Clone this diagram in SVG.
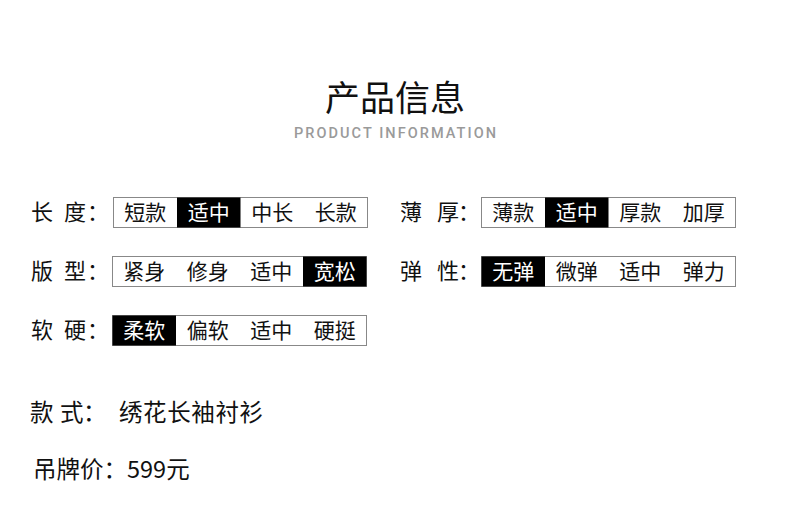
<svg xmlns="http://www.w3.org/2000/svg" width="790" height="508" viewBox="0 0 790 508">
<style>
text{font-family:"Noto Sans CJK SC","Noto Sans",sans-serif;fill:#111;}
.title{font-size:35px;text-anchor:middle;font-weight:400;}
.sub{font-family:"Roboto","Liberation Sans",sans-serif;font-size:14.5px;font-weight:500;fill:#9a9a9a;}
.lbl{font-size:22px;}
.cell{font-size:21px;text-anchor:middle;}
.on{fill:#fff;}
.box{fill:#fff;stroke:#888;stroke-width:1;}
.sel{fill:#000;}
.info{font-size:23.5px;}
</style>
<rect width="790" height="508" fill="#fff"/>
<g id="header">
<text class="title" x="395" y="111">产品信息</text>
<text class="sub" x="294" y="137.5" textLength="202" lengthAdjust="spacing">PRODUCT INFORMATION</text>
</g>
<g id="length">
<text class="lbl" x="31 64 87" y="220">长度：</text>
<rect class="box" x="113.5" y="197.5" width="254" height="30"/>
<rect class="sel" x="177" y="197.5" width="63.5" height="30"/>
<text class="cell" x="145.25" y="220">短款</text>
<text class="cell on" x="208.75" y="220">适中</text>
<text class="cell" x="272.25" y="220">中长</text>
<text class="cell" x="335.75" y="220">长款</text>
</g>
<g id="fit">
<text class="lbl" x="31 64 87" y="279">版型：</text>
<rect class="box" x="112.5" y="256.5" width="254" height="30"/>
<rect class="sel" x="303" y="256.5" width="63.5" height="30"/>
<text class="cell" x="144.25" y="279">紧身</text>
<text class="cell" x="207.75" y="279">修身</text>
<text class="cell" x="271.25" y="279">适中</text>
<text class="cell on" x="334.75" y="279">宽松</text>
</g>
<g id="softness">
<text class="lbl" x="31 64 87" y="338">软硬：</text>
<rect class="box" x="112.5" y="315.5" width="254" height="30"/>
<rect class="sel" x="112.5" y="315.5" width="63.5" height="30"/>
<text class="cell on" x="144.25" y="338">柔软</text>
<text class="cell" x="207.75" y="338">偏软</text>
<text class="cell" x="271.25" y="338">适中</text>
<text class="cell" x="334.75" y="338">硬挺</text>
</g>
<g id="thickness">
<text class="lbl" x="400 437 458" y="220">薄厚：</text>
<rect class="box" x="481.5" y="197.5" width="254" height="30"/>
<rect class="sel" x="545" y="197.5" width="63.5" height="30"/>
<text class="cell" x="513.25" y="220">薄款</text>
<text class="cell on" x="576.75" y="220">适中</text>
<text class="cell" x="640.25" y="220">厚款</text>
<text class="cell" x="703.75" y="220">加厚</text>
</g>
<g id="elasticity">
<text class="lbl" x="400 437 458" y="279">弹性：</text>
<rect class="box" x="481.5" y="256.5" width="254" height="30"/>
<rect class="sel" x="481.5" y="256.5" width="63.5" height="30"/>
<text class="cell on" x="513.25" y="279">无弹</text>
<text class="cell" x="576.75" y="279">微弹</text>
<text class="cell" x="640.25" y="279">适中</text>
<text class="cell" x="703.75" y="279">弹力</text>
</g>
<g id="style">
<text class="info" x="30 60 83" y="421">款式：</text>
<text class="info" x="119" y="421" font-size="24" letter-spacing="0.6">绣花长袖衬衫</text>
</g>
<g id="price">
<text class="info" x="33" y="478">吊牌价：599元</text>
</g>
<g id="connectors"/>
</svg>
